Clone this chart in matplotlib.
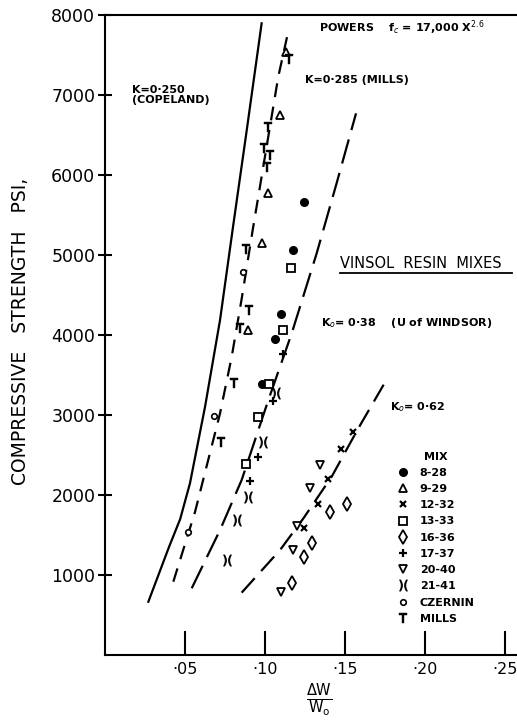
import matplotlib
matplotlib.use("Agg")
import matplotlib.pyplot as plt
from matplotlib.lines import Line2D

plt.rcParams['font.family'] = ['DejaVu Sans']
plt.rcParams['lines.scale_dashes'] = False

# --- curves (x = dW/Wo, y = psi) ---
k250_x = [0.0271, 0.0400, 0.0470, 0.0531, 0.0625, 0.0719, 0.0800, 0.0886, 0.0979]
k250_y = [666, 1350, 1700, 2146, 3100, 4187, 5350, 6562, 7896]
k285_x = [0.0427, 0.0563, 0.0719, 0.0792, 0.0854, 0.0923, 0.0958, 0.1083, 0.1146]
k285_y = [916, 1791, 3021, 3729, 4450, 5312, 5729, 7229, 7800]
k38_x = [0.0542, 0.0719, 0.0854, 0.1021, 0.1167, 0.1323, 0.1448, 0.1569]
k38_y = [834, 1562, 2187, 3187, 4021, 5021, 5900, 6771]
k62_x = [0.0854, 0.1094, 0.1240, 0.1417, 0.1583, 0.1771]
k62_y = [779, 1312, 1708, 2230, 2833, 3480]

# --- test points ---
mix_8_28_x = [0.1246, 0.1177, 0.1098, 0.1063, 0.0979]
mix_8_28_y = [5667, 5062, 4262, 3950, 3387]
mix_9_29_x = [0.1129, 0.1094, 0.1021, 0.0979, 0.0896]
mix_9_29_y = [7540, 6750, 5770, 5146, 4062]
mix_12_32_x = [0.1548, 0.1475, 0.1396, 0.1333, 0.1244]
mix_12_32_y = [2790, 2580, 2200, 1890, 1583]
mix_13_33_x = [0.1163, 0.1115, 0.1027, 0.0954, 0.0881]
mix_13_33_y = [4833, 4062, 3387, 2979, 2387]
mix_16_36_x = [0.1510, 0.1406, 0.1292, 0.1246, 0.1167]
mix_16_36_y = [1890, 1790, 1404, 1229, 896]
mix_17_37_x = [0.1110, 0.1052, 0.0958, 0.0906]
mix_17_37_y = [3758, 3170, 2479, 2179]
mix_20_40_x = [0.1344, 0.1281, 0.1198, 0.1177, 0.1098]
mix_20_40_y = [2375, 2083, 1612, 1312, 791]
mix_21_41_x = [0.1067, 0.0990, 0.0896, 0.0823, 0.0760]
mix_21_41_y = [3280, 2666, 1979, 1687, 1187]
czernin_x = [0.0860, 0.0681, 0.0517]
czernin_y = [4791, 2985, 1541]
mills_x = [0.1152, 0.1021, 0.0996, 0.1031, 0.1010, 0.0880, 0.0900, 0.0844, 0.0806, 0.0725]
mills_y = [7446, 6596, 6333, 6250, 6104, 5080, 4312, 4083, 3396, 2666]

x_ticks = [0.05, 0.10, 0.15, 0.20, 0.25]
x_labels = ['·05', '·10', '·15', '·20', '·25']
y_ticks = [1000, 2000, 3000, 4000, 5000, 6000, 7000, 8000]

fig = plt.figure(figsize=(5.17, 7.25), dpi=100)
ax = fig.add_axes([105/517, 70/725, 412/517, 640/725])
ax.set_xlim(0, 0.2575)
ax.set_ylim(0, 8000)

ax.plot(k250_x, k250_y, color='black', lw=1.6)
ax.plot(k285_x, k285_y, color='black', lw=1.6, dashes=(10, 7))
ax.plot(k38_x, k38_y, color='black', lw=1.6, dashes=(18, 7))
ax.plot(k62_x, k62_y, color='black', lw=1.6, dashes=(14, 7))

T_MARK = r'$\mathsf{T}$'
XC_MARK = r'$)($'
series = [
    (mix_8_28_x, mix_8_28_y, dict(marker='o', ms=5.5, mfc='black'), '8-28'),
    (mix_9_29_x, mix_9_29_y, dict(marker='^', ms=6, mfc='white', mew=1.3), '9-29'),
    (mix_12_32_x, mix_12_32_y, dict(marker='x', ms=5, mew=1.6), '12-32'),
    (mix_13_33_x, mix_13_33_y, dict(marker='s', ms=5.5, mfc='white', mew=1.3), '13-33'),
    (mix_16_36_x, mix_16_36_y, dict(marker='d', ms=7, mfc='white', mew=1.3), '16-36'),
    (mix_17_37_x, mix_17_37_y, dict(marker='+', ms=6, mew=1.6), '17-37'),
    (mix_20_40_x, mix_20_40_y, dict(marker='v', ms=6, mfc='white', mew=1.3), '20-40'),
    (mix_21_41_x, mix_21_41_y, dict(marker=XC_MARK, ms=8, mew=0.6), '21-41'),
    (czernin_x, czernin_y, dict(marker='o', ms=4, mfc='white', mew=1.2), 'CZERNIN'),
    (mills_x, mills_y, dict(marker=T_MARK, ms=6.5, mew=0.3), 'MILLS'),
]
handles = []
labels = []
for xs, ys, style, lab in series:
    ax.plot(xs, ys, ls='none', color='black', mec='black', **style)
    handles.append(Line2D([], [], ls='none', color='black', mec='black', **style))
    labels.append(lab)

leg = ax.legend(handles, labels, title='MIX', loc='upper left',
                bbox_to_anchor=(392/517, 1 - 446/725), bbox_transform=fig.transFigure,
                frameon=False, numpoints=1, handlelength=1.0, handletextpad=1.0,
                labelspacing=0.56, borderpad=0, prop=dict(size=8, weight='bold'),
                title_fontproperties=dict(size=8, weight='bold'))

ax.spines['right'].set_visible(False)
for s in ['left', 'bottom', 'top']:
    ax.spines[s].set_linewidth(1.5)

ax.set_xticks(x_ticks)
ax.set_xticklabels(x_labels, fontsize=11.5)
ax.set_yticks(y_ticks)
ax.set_yticklabels([str(v) for v in y_ticks], fontsize=12.5)
ax.tick_params(axis='x', direction='in', length=17, width=1.5, pad=5)
ax.tick_params(axis='y', direction='inout', length=10, width=1.5, pad=2)

ax.set_ylabel('COMPRESSIVE   STRENGTH   PSI,', fontsize=13.5)
ax.yaxis.set_label_coords(-(105 - 30)/412, (655 - 331)/640)
ax.set_xlabel(r'$\frac{\mathrm{\Delta W}}{\mathrm{W_o}}$', fontsize=15)
ax.xaxis.set_label_coords((319 - 105)/412, -(682 - 655)/640)

tk = dict(fontsize=8, weight='bold', ha='left', va='center')
ax.text(0.134, 7840, 'POWERS    f$_c$ = 17,000 X$^{2.6}$', **tk)
ax.text(0.125, 7190, 'K=0·285 (MILLS)', **tk)
ax.text(0.0169, 7000, 'K=0·250\n(COPELAND)', linespacing=1.1, **tk)
ax.text(0.135, 4150, 'K$_o$= 0·38    (U of WINDSOR)', **tk)
ax.text(0.178, 3100, 'K$_o$= 0·62', **tk)
ax.text(0.147, 4900, 'VINSOL  RESIN  MIXES', fontsize=10.5, ha='left', va='center')
ax.plot([0.147, 0.2545], [4770, 4770], color='black', lw=1.3)

fig.savefig('out.png', dpi=100)
